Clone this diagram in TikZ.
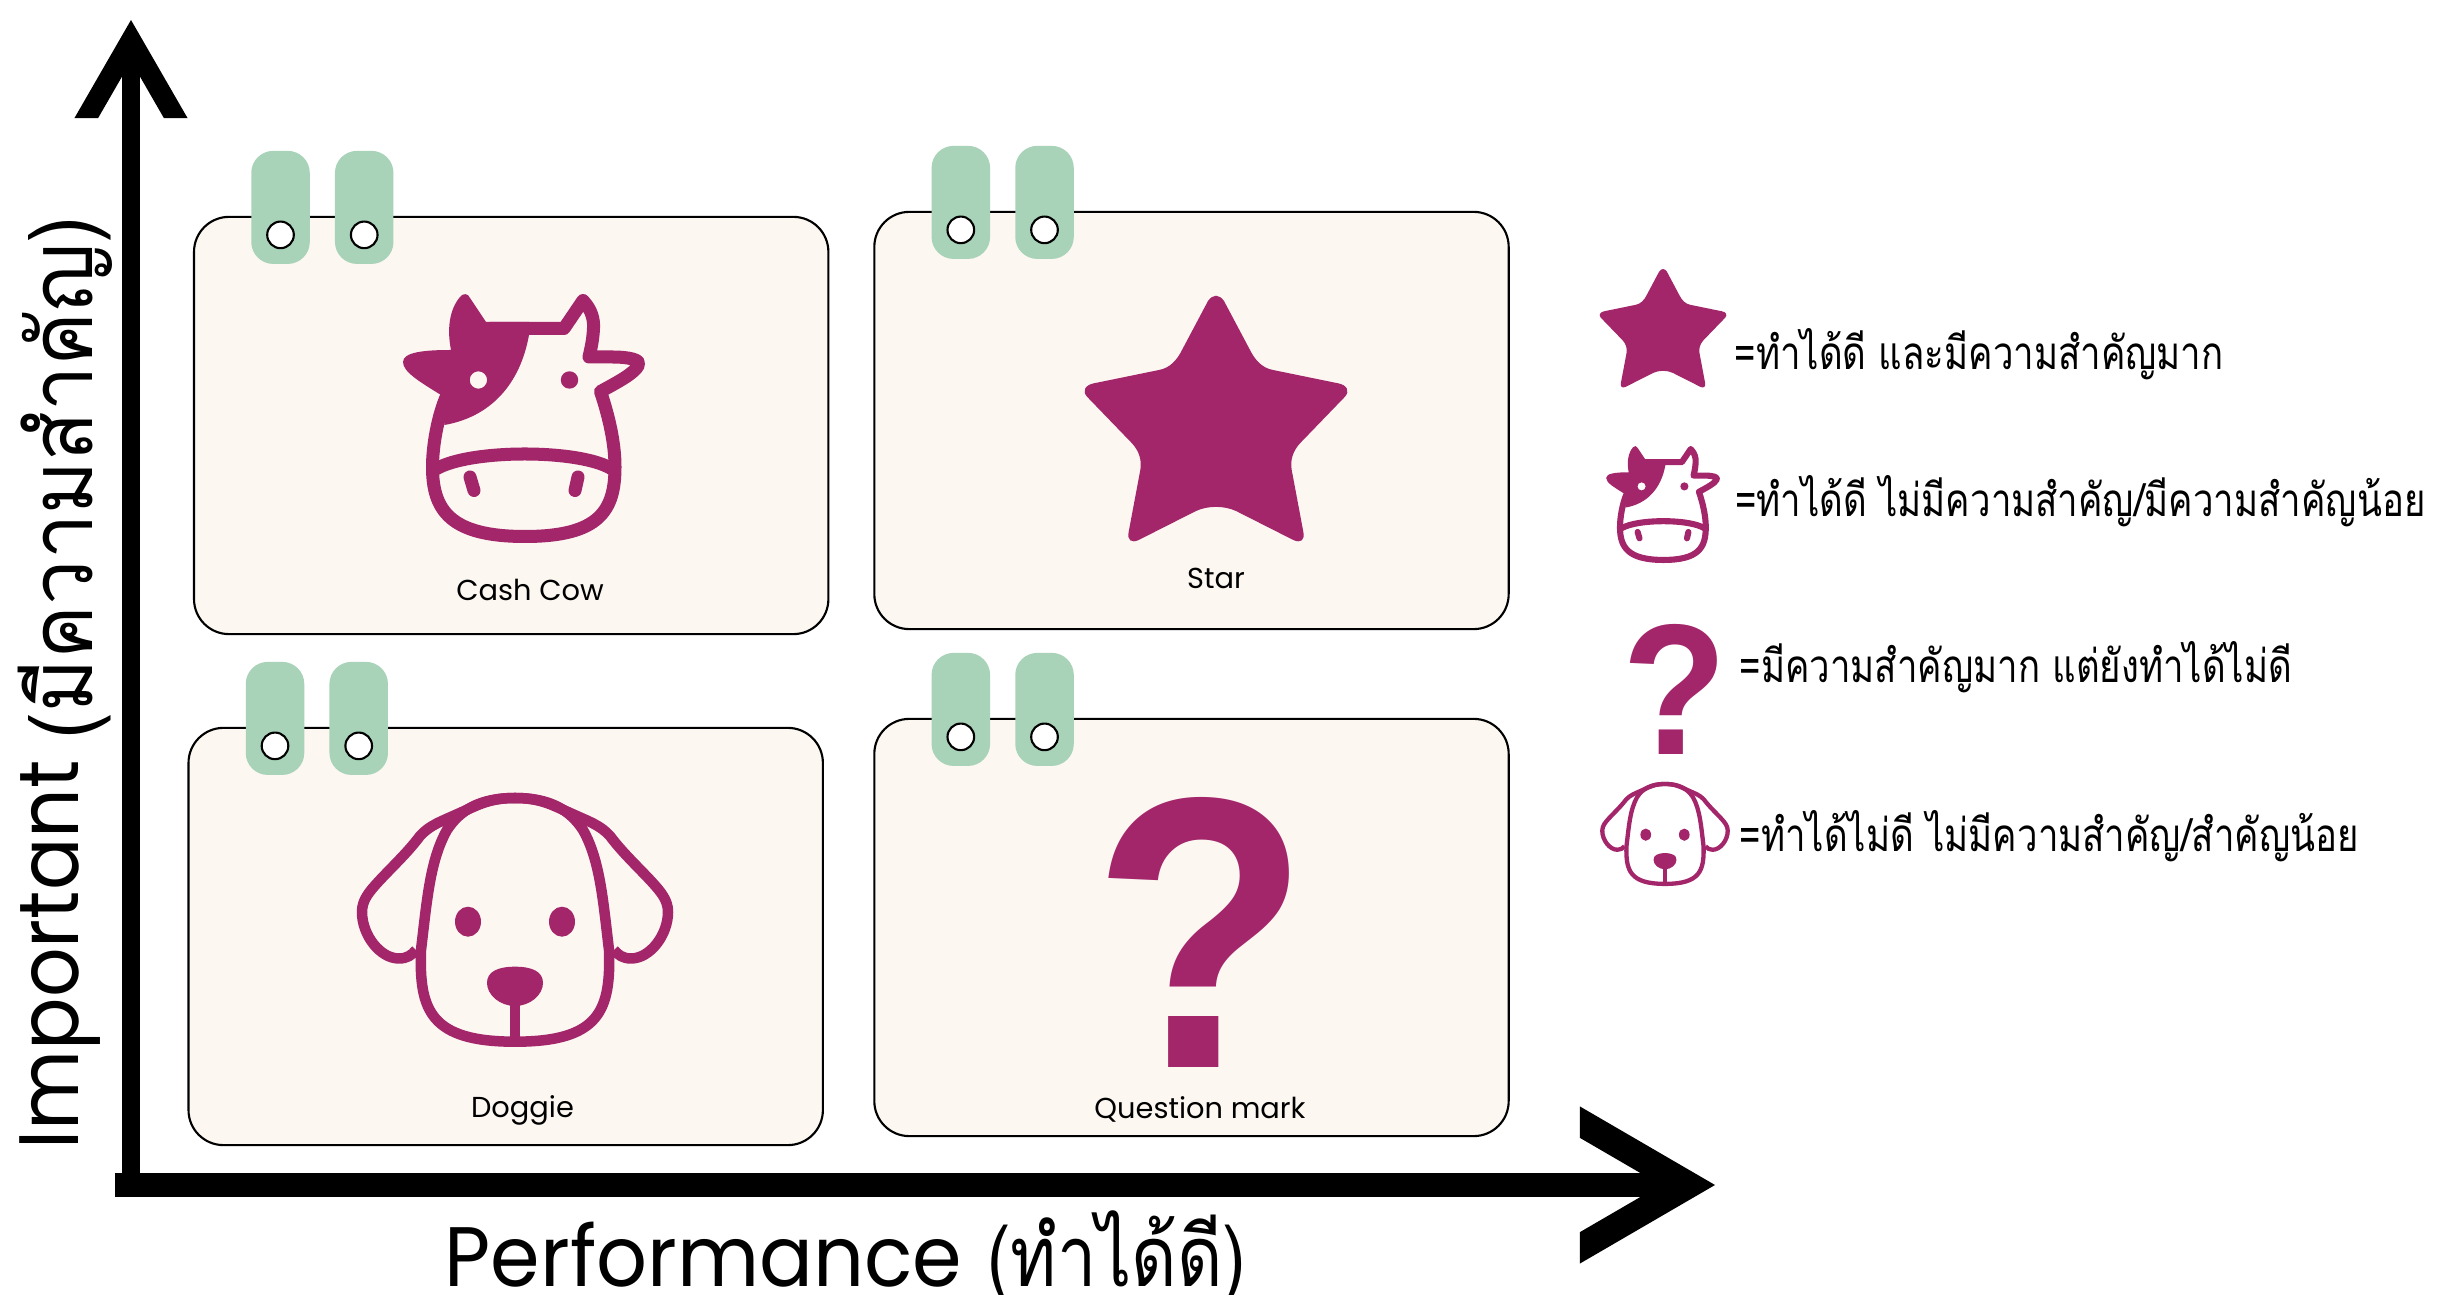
\documentclass[tikz,border=0pt]{standalone}
\usepackage{fontspec}
\usetikzlibrary{arrows.meta}
\setmainfont{Poppins}
\newfontfamily\thainote[Script=Thai,FakeStretch=0.8]{Loma}
\newfontfamily\thaiwide[Script=Thai,FakeStretch=0.92]{Loma}
\newfontfamily\thaicond[Script=Thai,FakeStretch=0.83]{Loma}
\newfontfamily\ylatin[FakeStretch=0.92]{Poppins}
\newfontfamily\xlatin[FakeStretch=0.945]{Poppins}
\newfontfamily\qfont[FakeStretch=0.92]{Liberation Sans}
\definecolor{CardCream}{HTML}{FCF7F1}
\definecolor{TabGreen}{HTML}{A8D3B9}
\definecolor{IconPlum}{HTML}{A3266B}

\pgfdeclarearrow{
  name=AxisChevron,
  parameters={\the\pgfarrowlength,\the\pgfarrowwidth,\the\pgfarrowinset},
  setup code={
    \pgfarrowssettipend{0pt}
    \pgfarrowssetlineend{-\pgfarrowinset}
    \pgfarrowssetbackend{-\pgfarrowlength}
    \pgfarrowssetvisualbackend{-\pgfarrowlength}
    \pgfarrowshullpoint{0pt}{0pt}
    \pgfarrowsupperhullpoint{-\pgfarrowlength}{0.5\pgfarrowwidth}
    \pgfarrowssavethe\pgfarrowlength
    \pgfarrowssavethe\pgfarrowwidth
    \pgfarrowssavethe\pgfarrowinset
  },
  drawing code={
    \pgfmathsetlengthmacro{\footin}{0.5*\pgfarrowwidth*(\pgfarrowlength-\pgfarrowinset)/\pgfarrowlength}
    \pgfpathmoveto{\pgfpoint{0pt}{0pt}}
    \pgfpathlineto{\pgfpoint{-\pgfarrowlength}{0.5\pgfarrowwidth}}
    \pgfpathlineto{\pgfpoint{-\pgfarrowlength}{\footin}}
    \pgfpathlineto{\pgfpoint{-\pgfarrowinset}{0pt}}
    \pgfpathlineto{\pgfpoint{-\pgfarrowlength}{-\footin}}
    \pgfpathlineto{\pgfpoint{-\pgfarrowlength}{-0.5\pgfarrowwidth}}
    \pgfpathclose
    \pgfusepathqfill
  }
}

\tikzset{
  pics/cowicon/.style={code={
    \begin{scope}[scale=#1, line width=#1*0.13cm, line join=round, line cap=round]
    \draw[IconPlum] (-34,-90) -- (40,-90) -- (59,-118) .. controls (68,-108.5) and (70,-98.5) .. (69.5,-90.5)
      .. controls (69,-78.5) and (67,-70.5) .. (65,-61.5) -- (88,-61.5)
      .. controls (106,-61.5) and (117,-58.5) .. (114.5,-53.5)
      .. controls (111,-45.5) and (94,-36.5) .. (76.5,-27)
      .. controls (86,1.5) and (91,26.5) .. (91,48.5)
      .. controls (91,91.5) and (76,118) .. (1,118)
      .. controls (-74,118) and (-91.5,91.5) .. (-91.5,48.5)
      .. controls (-91.5,26.5) and (-86,-3.5) .. (-77,-23.5);
    \fill[IconPlum, even odd rule] (5,-83.5) .. controls (-4,-33.5) and (-34,-1.5) .. (-79.5,6.5)
      -- (-83,-23.5) .. controls (-104,-36.5) and (-121,-46.5) .. (-121,-56.5)
      .. controls (-121,-66.5) and (-99,-68.5) .. (-73,-68.5)
      .. controls (-77,-88.5) and (-75,-108.5) .. (-64,-121.5)
      .. controls (-61,-125.5) and (-56,-125.5) .. (-54,-120.5)
      -- (-38,-96.5) -- (5,-96.5) -- cycle
      (-45.6,-38.5) circle [radius=8.7];
    \fill[IconPlum] (45.5,-38.5) circle [radius=8.7];
    \draw[IconPlum] (-88,50.5) .. controls (-54,30.5) and (56,30.5) .. (88,50.5);
    \draw[IconPlum] (-54,58.5) -- (-50,72);
    \draw[IconPlum] (54,58.5) -- (51,72);
    \end{scope}
  }},
  pics/dogicon/.style={code={
    \begin{scope}[scale=#1, line width=#1*0.105cm, line join=round]
    \foreach \s in {1,-1} {
      \draw[IconPlum, xscale=\s] (0,-122) .. controls (-25,-122) and (-37,-115) .. (-53,-108)
        .. controls (-75,-98) and (-85,-95) .. (-95,-84)
        .. controls (-107,-68) and (-120,-56) .. (-136,-39)
        .. controls (-146,-28) and (-153,-20) .. (-153,-8)
        .. controls (-153,15) and (-135,38.5) .. (-116,38.5)
        .. controls (-108,38.5) and (-103,35) .. (-99,30);
      \draw[IconPlum, xscale=\s] (0,-122) .. controls (-35,-122) and (-55,-110) .. (-68,-90)
        .. controls (-85,-60) and (-88,-20) .. (-94,30)
        .. controls (-96,90) and (-85,121.7) .. (0,121.7);
      \fill[IconPlum, xscale=\s] (-47,1.7) ellipse [x radius=13, y radius=15];
    }
    \fill[IconPlum] (0,46.7) .. controls (-18,46.7) and (-28,52) .. (-28,63)
      .. controls (-28,75) and (-15,86) .. (0,86)
      .. controls (15,86) and (28,75) .. (28,63)
      .. controls (28,52) and (18,46.7) .. (0,46.7) -- cycle;
    \draw[IconPlum] (0,80) -- (0,121);
    \end{scope}
  }},
  pics/staricon/.style={code={
    \fill[IconPlum, scale=#1] (-8,-117) .. controls (-3,-124) and (3,-124) .. (8,-117)
      -- (34,-68) .. controls (39,-58) and (46,-50) .. (57,-48)
      -- (122,-34.7) .. controls (131,-33) and (134,-27) .. (129,-21.3)
      -- (84,25.3) .. controls (77,33) and (74,42) .. (75.7,52)
      -- (87.3,113.7) .. controls (89,122) and (85,125.5) .. (77.3,122)
      -- (20,93) .. controls (8,87.5) and (-8,87.5) .. (-20,93)
      -- (-77.3,122) .. controls (-85,125.5) and (-89,122) .. (-87.3,113.7)
      -- (-75.7,52) .. controls (-74,42) and (-77,33) .. (-84,25.3)
      -- (-129,-21.3) .. controls (-134,-27) and (-131,-33) .. (-122,-34.7)
      -- (-57,-48) .. controls (-46,-50) and (-39,-58) .. (-34,-68) -- cycle;
  }}
}

\begin{document}
\begin{tikzpicture}[x=0.01cm, y=-0.01cm,
                    cardbox/.style={draw=black, line width=0.6pt, fill=CardCream, rounded corners=0.35cm,
                                    minimum width=6.34cm, minimum height=4.17cm, inner sep=0pt, outer sep=0pt},
                    tabbox/.style={fill=TabGreen, rounded corners=0.22cm, anchor=north,
                                   minimum width=0.585cm, minimum height=1.13cm, inner sep=0pt, outer sep=0pt},
                    holedot/.style={circle, draw=black, line width=0.6pt, fill=white, minimum size=0.266cm, inner sep=0pt},
                    cardlabel/.style={font=\fontsize{8.2pt}{10pt}\selectfont},
                    axislabel/.style={font=\fontsize{24pt}{28pt}\selectfont, inner sep=0pt, anchor=base west},
                    legendtext/.style={font=\fontsize{13pt}{15pt}\selectfont\thainote, inner sep=0pt, anchor=base west},
                    qbig/.style={IconPlum, inner sep=0pt, font=\fontsize{110pt}{110pt}\selectfont\qfont\bfseries},
                    qsmall/.style={IconPlum, inner sep=0pt, font=\fontsize{53pt}{53pt}\selectfont\qfont\bfseries}]
\useasboundingbox (0,0) rectangle (2460,1295);

\node[cardbox] (cashcow) at (511.2,425.5) {};
\node[cardbox] (star) at (1191.5,420.5) {};
\node[cardbox] (doggie) at (505.7,936.5) {};
\node[cardbox] (qmark) at (1191.5,927.5) {};

\foreach \card in {cashcow,star,doggie,qmark}
  \foreach \dx/\id in {86.5/a,170.2/b} {
    \node[tabbox] (tab\card\id) at ([shift={(\dx,-66)}]\card.north west) {};
    \node[holedot] (hole\card\id) at ([shift={(\dx,18)}]\card.north west) {};
  }

\pic (cowcard) at (524,418.5) {cowicon=1};
\pic (starcard) at (1216,418) {staricon=1};
\pic (dogcard) at (515,920) {dogicon=1};
\node[qbig] (qcard) at (1201,932) {?};

\node[cardlabel] (cashcowlabel) at (530,590) {Cash Cow};
\node[cardlabel] (starlabel) at (1216,578) {Star};
\node[cardlabel] (doggielabel) at (522.5,1110) {Doggie};
\node[cardlabel] (qmarklabel) at (1200,1109) {Question mark};

\coordinate (yfoot) at (131,1185);
\coordinate (ytip) at (131,20);
\coordinate (xfoot) at (114.5,1185);
\coordinate (xtip) at (1715,1185);
\draw[line width=0.18cm, -{AxisChevron[length=0.98cm, width=1.13cm, inset=0.41cm]}] (yfoot) -- (ytip);
\draw[line width=0.24cm, -{AxisChevron[length=1.35cm, width=1.57cm, inset=0.54cm]}] (xfoot) -- (xtip);

\node[axislabel, rotate=90] (ylabel) at (78.5,1150) {{\ylatin Important }\raisebox{-0.14cm}{\fontsize{25pt}{28pt}\selectfont\thaiwide (มีความสำคัญ)}};
\node[axislabel] (xlabel) at (444,1287) {{\xlatin Performance }\hspace{1.2pt}{\thaicond (ทำได้ดี)}};

\pic (starkey) at (1663,328) {staricon=0.482};
\pic (cowkey) at (1663,504.5) {cowicon=0.47};
\node[qsmall] (qkey) at (1675,689) {?};
\pic (dogkey) at (1665,834) {dogicon=0.41};

\node[legendtext] (starnote) at (1734,370) {=ทำได้ดี และมีความสำคัญมาก};
\node[legendtext] (cownote) at (1734.5,517) {=ทำได้ดี ไม่มีความสำคัญ/มีความสำคัญน้อย};
\node[legendtext] (qnote) at (1739,683) {=มีความสำคัญมาก แต่ยังทำได้ไม่ดี};
\node[legendtext] (dognote) at (1739,852) {=ทำได้ไม่ดี ไม่มีความสำคัญ/สำคัญน้อย};
\end{tikzpicture}
\end{document}
